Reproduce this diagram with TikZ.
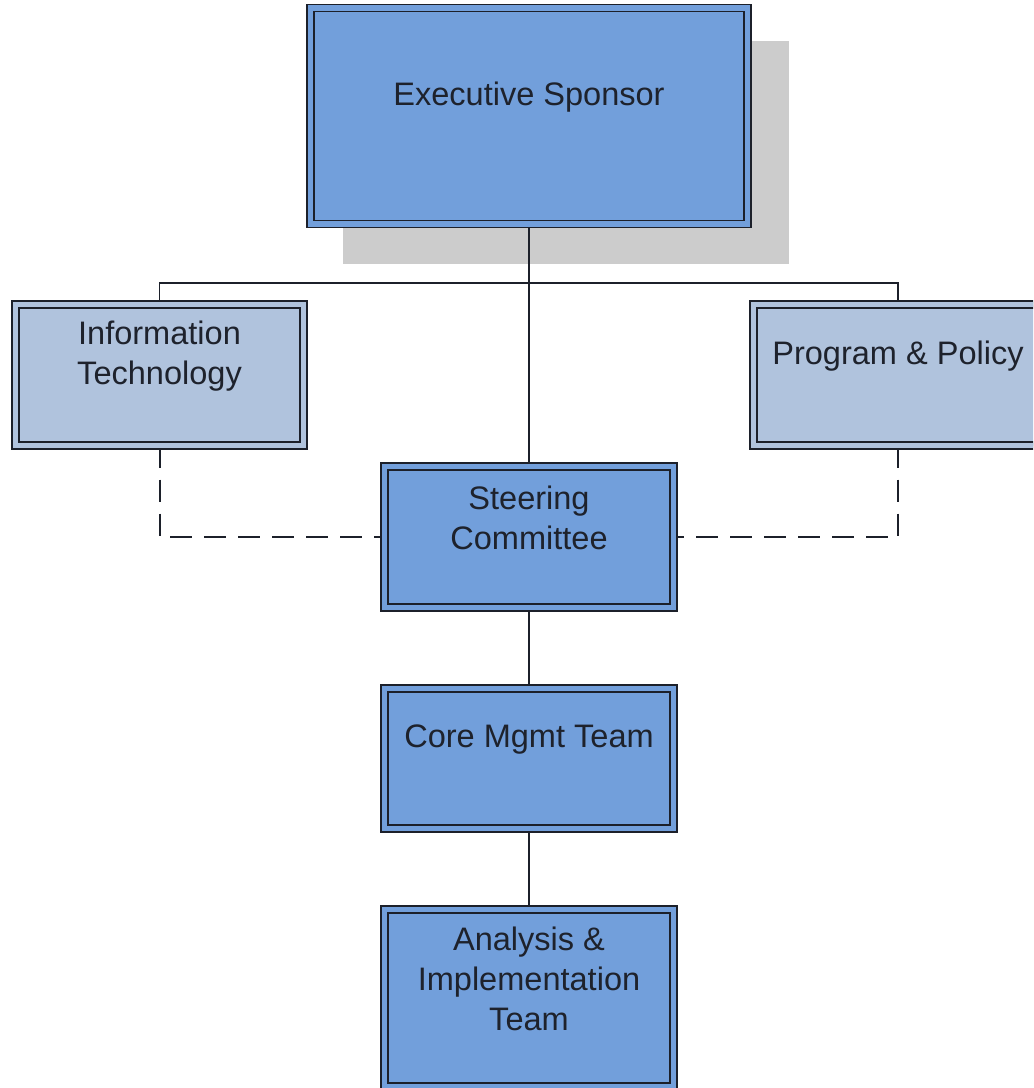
\documentclass[tikz,border=0pt]{standalone}
\usepackage{fontspec}
\setmainfont{Liberation Sans}
\usetikzlibrary{backgrounds}
\definecolor{boxblue}{RGB}{114,159,219}
\definecolor{boxlight}{RGB}{176,195,221}
\definecolor{shadowgray}{RGB}{204,204,204}
\definecolor{edge}{RGB}{28,32,42}
\definecolor{txt}{RGB}{30,34,44}
\tikzset{
  orgbox/.style={draw=edge, line width=1.25pt, double distance=4.0pt, outer sep=0pt, inner sep=0pt},
  darkbox/.style={orgbox, fill=boxblue, double=boxblue},
  lightbox/.style={orgbox, fill=boxlight, double=boxlight},
  lbl/.style={font=\fontsize{24.4}{30}\selectfont, text=txt, align=center, yshift=14.25pt},
  conn/.style={draw=edge, line width=1.2pt},
  dconn/.style={draw=edge, line width=1.5pt, dash pattern=on 16.5pt off 9pt},
}
\begin{document}
\begin{tikzpicture}[x=0.75pt,y=-0.75pt]
\useasboundingbox (0,0) rectangle (1033,1088);
\clip (0,0) rectangle (1033,1088);
\node[darkbox, minimum width=0.75*437pt, minimum height=0.75*216pt,
  label={[lbl,name=esl]center:Executive Sponsor}] (es) at (529,116) {};
\node[lightbox, minimum width=0.75*288pt, minimum height=0.75*141pt,
  label={[lbl,name=itl]center:Information\\Technology}] (it) at (159.5,375) {};
\node[lightbox, minimum width=0.75*289pt, minimum height=0.75*141pt,
  label={[lbl,name=ppl]center:Program \& Policy}] (pp) at (898,375) {};
\node[darkbox, minimum width=0.75*289pt, minimum height=0.75*141pt,
  label={[lbl,name=scl]center:Steering\\Committee}] (sc) at (529,537) {};
\node[darkbox, minimum width=0.75*289pt, minimum height=0.75*140pt,
  label={[lbl,name=cml]center:Core Mgmt Team}] (cm) at (529,758.5) {};
\node[darkbox, minimum width=0.75*289pt, minimum height=0.75*177pt,
  label={[lbl,name=ail]center:Analysis \&\\Implementation\\Team}] (ai) at (529,998) {};
\begin{scope}[on background layer]
  \fill[shadowgray] (343,41) rectangle (789,264);
  \coordinate (bus) at (529,283);
  \draw[conn] (it.center) |- (bus) -| (pp.center);
  \draw[conn] (es.center) -- (sc.center);
  \draw[conn] (sc.center) -- (cm.center);
  \draw[conn] (cm.center) -- (ai.center);
  \draw[dconn] (it.south) |- (sc.west);
  \draw[dconn] (pp.south) |- (sc.east);
\end{scope}
\end{tikzpicture}
\end{document}
